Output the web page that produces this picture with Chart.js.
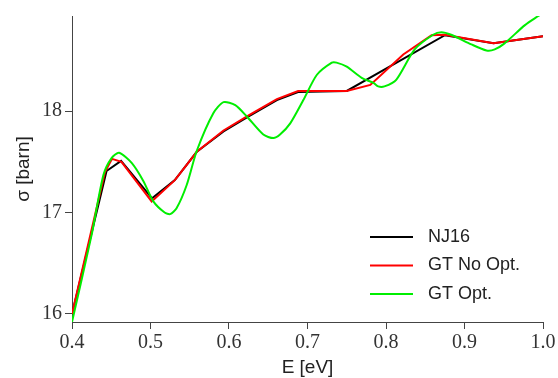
<!DOCTYPE html>
<html lang="en">
<head>
    <meta charset="UTF-8">
    <title>Cross section</title>
    <style>
        body {
            margin: 0;
            padding: 0;
            background: #fff;
            overflow: hidden;
        }
        .wrap {
            width: 558px;
            height: 378px;
        }
    </style>
</head>
<body>
    <div class="wrap">
        <canvas id="chart" width="558" height="378"></canvas>
    </div>
    <script src="https://cdn.jsdelivr.net/npm/chart.js@4/dist/chart.umd.min.js"></script>
    <script>
        // NJ16 reference (piecewise linear)
        const njE = [0.4, 0.444, 0.4625, 0.502, 0.531, 0.559, 0.593, 0.625, 0.661, 0.688, 0.75, 0.875, 0.937, 1.0];
        const njSigma = [16.0, 17.41, 17.51, 17.14, 17.32, 17.6, 17.8, 17.95, 18.11, 18.19, 18.2, 18.75, 18.67, 18.74];

        // GT without optimisation
        const noOptE = [0.4, 0.442, 0.451, 0.463, 0.5015, 0.531, 0.559, 0.593, 0.625, 0.661, 0.688, 0.75, 0.78, 0.822, 0.858, 0.875, 0.937, 1.0];
        const noOptSigma = [16.0, 17.4, 17.53, 17.5, 17.11, 17.32, 17.6, 17.81, 17.96, 18.12, 18.2, 18.2, 18.26, 18.56, 18.75, 18.755, 18.67, 18.74];

        // GT with optimisation
        const optE = [0.4, 0.425, 0.44, 0.4506, 0.46, 0.476, 0.491, 0.5036, 0.518, 0.525, 0.533, 0.546, 0.559,
            0.58, 0.593, 0.608, 0.6225, 0.6437, 0.6565, 0.665, 0.678, 0.6947, 0.712, 0.731, 0.737, 0.75, 0.769,
            0.784, 0.79, 0.798, 0.813, 0.8365, 0.86, 0.8705, 0.883, 0.9087, 0.928, 0.9385, 0.951, 0.977, 0.994, 1.0];
        const optSigma = [15.92, 16.78, 17.37, 17.54, 17.59, 17.49, 17.31, 17.11, 17.0, 16.985, 17.04, 17.27, 17.61,
            17.98, 18.09, 18.06, 17.95, 17.77, 17.735, 17.77, 17.88, 18.11, 18.36, 18.48, 18.48, 18.44, 18.33,
            18.28, 18.245, 18.245, 18.31, 18.61, 18.755, 18.78, 18.755, 18.66, 18.6, 18.61, 18.67, 18.85, 18.94, 18.97];

        const xTicks = [0.4, 0.5, 0.6, 0.7, 0.8, 0.9, 1.0];
        const yTicks = [16, 17, 18];

        const pts = (xs, ys) => xs.map((x, i) => ({x: x, y: ys[i]}));

        const axisColor = '#444';
        const tickFont = {family: 'Liberation Serif', size: 20};

        // legend drawn inside the plot, lower right
        const insideLegend = {
            id: 'insideLegend',
            afterDatasetsDraw(chart) {
                const ctx = chart.ctx;
                const area = chart.chartArea;
                const x0 = area.right - 173;
                const y0 = area.top + 221;
                ctx.save();
                ctx.font = '18px "Liberation Sans"';
                ctx.textBaseline = 'middle';
                chart.data.datasets.forEach((ds, i) => {
                    const y = y0 + i * 28.5;
                    ctx.strokeStyle = ds.borderColor;
                    ctx.lineWidth = 2;
                    ctx.beginPath();
                    ctx.moveTo(x0, y);
                    ctx.lineTo(x0 + 43, y);
                    ctx.stroke();
                    ctx.fillStyle = '#222';
                    ctx.fillText(ds.label, x0 + 58, y);
                });
                ctx.restore();
            }
        };

        const ctx = document.getElementById('chart').getContext('2d');
        new Chart(ctx, {
            type: 'line',
            data: {
                datasets: [{
                    label: 'NJ16',
                    data: pts(njE, njSigma),
                    borderColor: '#000000',
                    borderWidth: 2,
                    pointRadius: 0,
                    tension: 0,
                    order: 3
                }, {
                    label: 'GT No Opt.',
                    data: pts(noOptE, noOptSigma),
                    borderColor: '#ff0000',
                    borderWidth: 2,
                    pointRadius: 0,
                    tension: 0,
                    order: 2
                }, {
                    label: 'GT Opt.',
                    data: pts(optE, optSigma),
                    borderColor: '#00ee00',
                    borderWidth: 2,
                    pointRadius: 0,
                    tension: 0.25,
                    order: 1
                }]
            },
            options: {
                responsive: false,
                animation: false,
                layout: {
                    padding: {top: 16, right: 15, left: 0, bottom: 0}
                },
                plugins: {
                    legend: {display: false},
                    tooltip: {enabled: false}
                },
                scales: {
                    x: {
                        type: 'linear',
                        min: 0.4,
                        max: 1.0,
                        afterFit: (s) => { s.height = 56; },
                        afterBuildTicks: (s) => { s.ticks = xTicks.map(v => ({value: v})); },
                        border: {display: true, color: axisColor, width: 1},
                        grid: {display: true, drawOnChartArea: false, drawTicks: true, tickLength: 7, color: axisColor},
                        ticks: {
                            font: tickFont,
                            color: '#333',
                            padding: 2,
                            maxRotation: 0,
                            callback: (v) => v.toFixed(1)
                        },
                        title: {
                            display: true,
                            text: 'E [eV]',
                            font: {family: 'Liberation Sans', size: 19, lineHeight: 1.1},
                            color: '#222',
                            padding: {top: 0, bottom: 0}
                        }
                    },
                    y: {
                        min: 15.92,
                        max: 18.94,
                        afterFit: (s) => { s.width = 72; },
                        afterBuildTicks: (s) => { s.ticks = yTicks.map(v => ({value: v})); },
                        border: {display: true, color: axisColor, width: 1},
                        grid: {display: true, drawOnChartArea: false, drawTicks: true, tickLength: 7, color: axisColor},
                        ticks: {
                            font: tickFont,
                            color: '#333',
                            padding: 3,
                            callback: (v) => String(v)
                        },
                        title: {
                            display: true,
                            text: 'σ [barn]',
                            font: {family: 'Liberation Sans', size: 19},
                            color: '#222',
                            padding: {top: 12, bottom: 0}
                        }
                    }
                }
            },
            plugins: [insideLegend]
        });
    </script>
</body>
</html>
